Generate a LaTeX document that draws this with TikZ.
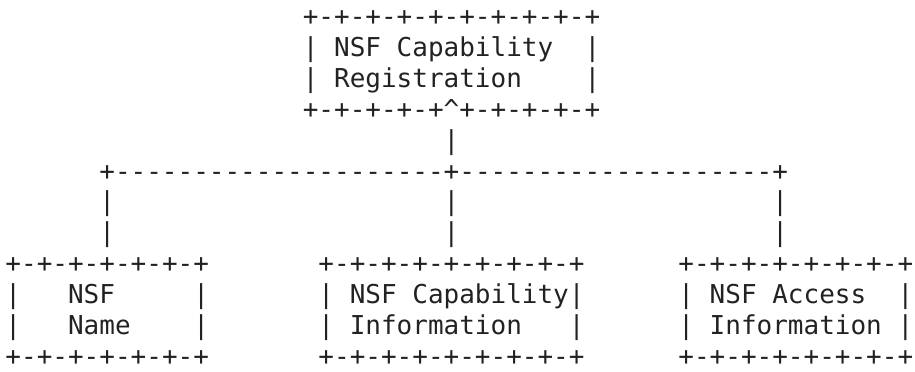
\documentclass[tikz,border=0pt]{standalone}
\usepackage{fontspec}
\setmonofont{DejaVu Sans Mono}
\usepackage{tikz}
\definecolor{ink}{HTML}{222222}
\tikzset{ascii/.style={font=\ttfamily\fontsize{26}{31}\selectfont, text=ink,
    anchor=base west, inner sep=0pt, outer sep=0pt}}

\begin{document}
\begin{tikzpicture}[x=15.65pt, y=-30.85pt]
\useasboundingbox (-0.351,-0.838) rectangle (58.12,11.19);
% registration box
\node[ascii] (regtop) at (19,0) {+-+-+-+-+-+-+-+-+-+};
\node[ascii] (regcap) at (19,1) {|~NSF~Capability~~|};
\node[ascii] (regreg) at (19,2) {|~Registration~~~~|};
\node[ascii] (regbot) at (19,3) {+-+-+-+-+\textasciicircum+-+-+-+-+};
% tree
\node[ascii] (stem) at (28,4) {|};
\node[ascii] (bus) at (6,5) {+---------------------+--------------------+};
\foreach \c in {6,28,49}
  \foreach \r in {6,7}
    \node[ascii] (leg\c-\r) at (\c,\r) {|};
% lower boxes
\foreach \r in {8,11} {
  \node[ascii] (name\r) at (0,\r) {+-+-+-+-+-+-+};
  \node[ascii] (capinfo\r) at (20,\r) {+-+-+-+-+-+-+-+-+};
  \node[ascii] (access\r) at (43,\r) {+-+-+-+-+-+-+-+};
}
\node[ascii] (name9) at (0,9) {|~~~NSF~~~~~|};
\node[ascii] (name10) at (0,10) {|~~~Name~~~~|};
\node[ascii] (capinfo9) at (20,9) {|~NSF~Capability|};
\node[ascii] (capinfo10) at (20,10) {|~Information~~~|};
\node[ascii] (access9) at (43,9) {|~NSF~Access~~|};
\node[ascii] (access10) at (43,10) {|~Information~|};
\end{tikzpicture}
\end{document}
